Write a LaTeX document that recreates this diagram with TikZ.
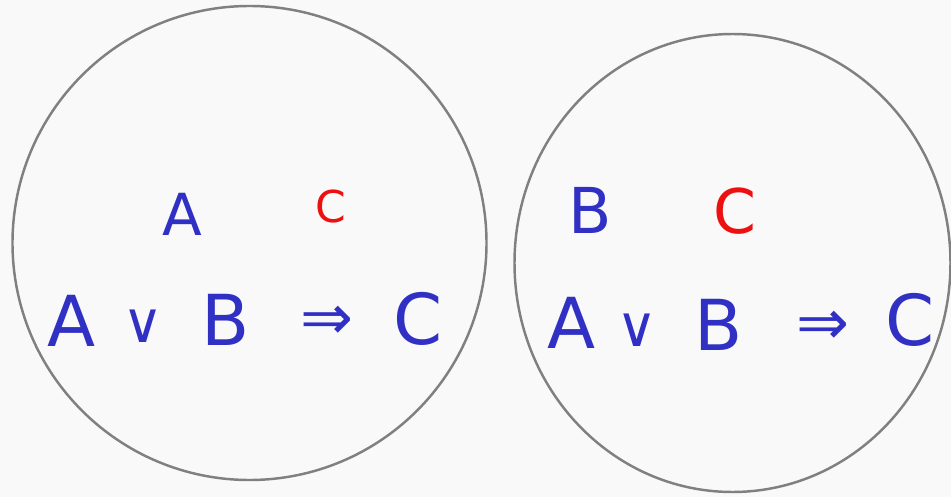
\documentclass[tikz,border=0pt]{standalone}
\usepackage{fontspec}
\setmainfont{DejaVu Sans}
\definecolor{penblue}{RGB}{48,48,196}
\definecolor{penred}{RGB}{236,16,16}
\definecolor{rimgray}{RGB}{128,128,128}
\definecolor{paper}{RGB}{249,249,249}
\tikzset{
  world/.style={draw=rimgray, line width=1.4pt},
  blueterm/.style={text=penblue, inner sep=0pt, font=\fontsize{#1}{#1}\selectfont},
  redterm/.style={text=penred, inner sep=0pt, font=\fontsize{#1}{#1}\selectfont}
}
\begin{document}
\begin{tikzpicture}[x=0.02cm, y=-0.02cm]
    % page
    \fill[paper] (0,0) rectangle (951,497);
    \useasboundingbox (0,0) rectangle (951,497);

    % First world
    \draw[world] (249.5,243) circle (237);
    \node[blueterm=33] (a1) at (182,214) {A};
    \node[redterm=25] (c1) at (331,207) {C};
    \node[blueterm=40] (fa1) at (72,321) {A};
    \node[blueterm=32] (for1) at (143,326) {∨};
    \node[blueterm=40] (fb1) at (226,320) {B};
    \node[blueterm=36] (fimp1) at (327,323) {⇒};
    \node[blueterm=40] (fc1) at (418,319) {C};

    % Second world
    \draw[world] (732.5,263) ellipse (218 and 229);
    \node[blueterm=36] (b2) at (590,210) {B};
    \node[redterm=35] (c2) at (735,211) {C};
    \node[blueterm=40] (fa2) at (572,323) {A};
    \node[blueterm=32] (for2) at (637,330) {∨};
    \node[blueterm=40] (fb2) at (719,325) {B};
    \node[blueterm=36] (fimp2) at (823,328) {⇒};
    \node[blueterm=40] (fc2) at (910,320) {C};
\end{tikzpicture}
\end{document}
